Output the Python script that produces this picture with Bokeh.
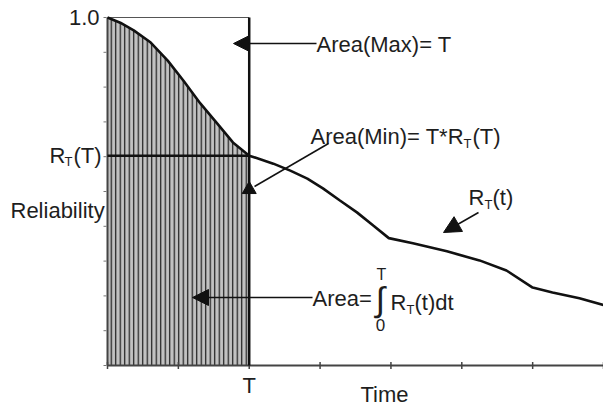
import numpy as np
from bokeh.plotting import figure
from bokeh.models import Range1d, Label, Arrow, NormalHead
from bokeh.embed import file_html
from bokeh.resources import INLINE

# ---- data ----
TIME = [0.0, 0.18, 0.37, 0.61, 0.85, 1.07, 1.31, 1.55, 1.77, 2.0,
        2.34, 2.58, 2.82, 3.04, 3.28, 3.52, 3.75, 3.97, 4.31, 4.79,
        5.25, 5.63, 6.0, 6.28, 6.66, 7.0]
REL = [1.0, 0.985, 0.963, 0.928, 0.876, 0.819, 0.753, 0.695, 0.641, 0.603,
       0.580, 0.560, 0.537, 0.509, 0.474, 0.440, 0.402, 0.366, 0.351, 0.328,
       0.302, 0.273, 0.224, 0.210, 0.193, 0.174]
T_VAL = 2.0
RT_AT_T = 0.603
R_MAX = 1.0
X_TICKS = [0, 1, 2, 3, 4, 5, 6, 7]
X_TICK_LABELS = {2: "T"}
Y_TICKS = [0.0, 0.1, 0.2, 0.3, 0.4, 0.5, 0.6, 0.7, 0.8, 0.9, 1.0]
Y_TICK_LABELS = {1.0: "1.0"}

# ---- layout helpers (page pixel -> data) ----
W, H = 603, 408
X0_PX, PX_PER_T = 107, 70.86
Y0_PX, PX_PER_R = 365, 348.0


def tx(px):
    return (px - X0_PX) / PX_PER_T


def ry(py):
    return (Y0_PX - py) / PX_PER_R


FONT = "Liberation Sans"
TXT = "#1e1e1e"
INK = "#111111"
AX = "#444444"

p = figure(width=W, height=H,
           x_range=Range1d(tx(0), tx(W)),
           y_range=Range1d(ry(H), ry(0)),
           min_border=0, x_axis_type=None, y_axis_type=None,
           output_backend="svg", toolbar_location=None)
p.outline_line_color = None
p.xgrid.visible = False
p.ygrid.visible = False
p.background_fill_color = "white"
p.border_fill_color = "white"

t = np.array(TIME)
r = np.array(REL)
k = int(np.sum(t <= T_VAL + 1e-9))

# shaded & hatched area under the curve up to T
p.varea(x=t[:k], y1=np.zeros(k), y2=r[:k], fill_color="#c2c2c2",
        hatch_pattern="vertical_line", hatch_scale=4.5, hatch_weight=1.2,
        hatch_color="#1a1a1a")

# axes (lines + ticks)
p.segment(x0=[0], y0=[0], x1=[max(X_TICKS)], y1=[0], line_width=2, line_color=AX)
p.segment(x0=[0], y0=[0], x1=[0], y1=[R_MAX], line_width=2, line_color=AX)
p.scatter(x=X_TICKS, y=[0] * len(X_TICKS), marker="dash", angle=np.pi / 2,
          size=7, line_width=1.5, line_color=AX)
p.scatter(x=[tx(104.5)] * len(Y_TICKS), y=Y_TICKS, marker="dash",
          size=3, line_width=1, line_color="#777777")

# rectangle of the maximum area
p.segment(x0=[0], y0=[R_MAX], x1=[T_VAL], y1=[R_MAX], line_width=1.2, line_color="#555555")
p.segment(x0=[T_VAL], y0=[0], x1=[T_VAL], y1=[R_MAX], line_width=2.5, line_color=INK)
# minimum area line
p.segment(x0=[0], y0=[RT_AT_T], x1=[T_VAL], y1=[RT_AT_T], line_width=2.5, line_color=INK)

# reliability curve
p.line(t, r, line_width=2.6, line_color=INK)


def lab(text, x, y, size="22px", align="left"):
    p.add_layout(Label(x=x, y=y, text=text, text_font=FONT,
                       text_font_size=size, text_color=TXT,
                       text_align=align, text_baseline="middle"))


# tick labels
for v, s in X_TICK_LABELS.items():
    lab(s, v, ry(385), align="center")
for v, s in Y_TICK_LABELS.items():
    lab(s, tx(99), v, align="right")

# axis-side labels
lab("R", tx(49), ry(155))
lab("T", tx(64), ry(161), "13px")
lab("(T)", tx(73), ry(155))
lab("Reliability", tx(10), ry(210))
lab("Time", tx(360), ry(394))

# Area(Max)
lab("Area(Max)= T", tx(316), ry(44))
p.add_layout(Arrow(end=NormalHead(size=15, fill_color=INK, line_color=INK),
                   x_start=tx(316), y_start=ry(43), x_end=tx(233), y_end=ry(43),
                   line_width=1.5, line_color=INK))

# Area(Min)
lab("Area(Min)= T*R", tx(310), ry(136))
lab("T", tx(463), ry(143), "13px")
lab("(T)", tx(472), ry(136))
p.add_layout(Arrow(end=None, x_start=tx(328), y_start=ry(143), x_end=tx(254), y_end=ry(186),
                   line_width=1.5, line_color=INK))
p.scatter(x=[T_VAL], y=[ry(189)], marker="triangle", size=14, fill_color=INK, line_color=INK)

# R_T(t)
lab("R", tx(468), ry(197))
lab("T", tx(484), ry(204), "13px")
lab("(t)", tx(492), ry(197))
p.add_layout(Arrow(end=NormalHead(size=17, fill_color=INK, line_color=INK),
                   x_start=tx(478), y_start=ry(212), x_end=tx(443), y_end=ry(232),
                   line_width=1.5, line_color=INK))

# Area = integral
lab("Area=", tx(312), ry(298))
lab("\u222b", tx(380), ry(298), "34px", "center")
lab("T", tx(381), ry(274), "16px", "center")
lab("0", tx(380), ry(324), "17px", "center")
lab("R", tx(390), ry(302))
lab("T", tx(406), ry(309), "13px")
lab("(t)dt", tx(414), ry(302))
p.add_layout(Arrow(end=NormalHead(size=16, fill_color=INK, line_color=INK),
                   x_start=tx(312), y_start=ry(297), x_end=tx(192), y_end=ry(297),
                   line_width=1.5, line_color=INK))

open("out.html", "w").write(file_html(p, INLINE))
